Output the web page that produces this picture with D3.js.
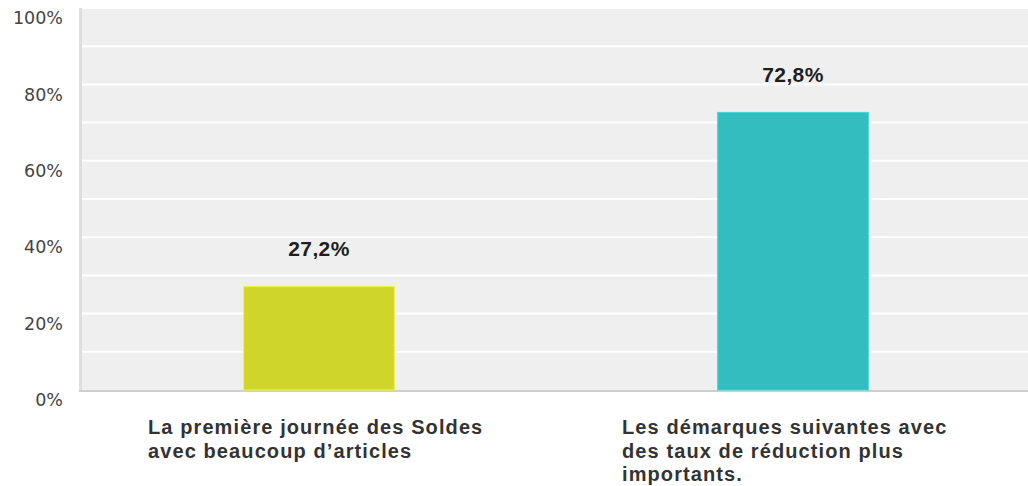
<!DOCTYPE html>
<html>
<head>
<meta charset="utf-8">
<script src="https://cdn.jsdelivr.net/npm/d3@7"></script>
<style>
  body { margin: 0; background: #fff; }
  svg { display: block; }
</style>
</head>
<body>
<div id="chart"></div>
<script>
const categories = [
    ["La première journée des Soldes", "avec beaucoup d’articles"],
    ["Les démarques suivantes avec", "des taux de réduction plus", "importants."]
]
const values = [27.2, 72.8]
const valueLabels = ["27,2%", "72,8%"]
const colors = ["#cfd52a", "#33bdbf"]
const tickValues = [0, 20, 40, 60, 80, 100]
const gridValues = d3.range(0, 101, 10)

const width = 1028,
    height = 486

const margin = { left: 82, right: -2, top: 8, bottom: 96 }

const svg = d3.select("#chart").append("svg")
    .attr("width", width)
    .attr("height", height)

const x = d3.scaleBand()
    .domain(d3.range(values.length))
    .range([margin.left, width - margin.right])
    .paddingInner(0.68)
    .paddingOuter(0.34)

const y = d3.scaleLinear()
    .domain([0, 100])
    .range([height - margin.bottom, margin.top])

// plot background
svg.append("rect")
    .attr("x", margin.left)
    .attr("y", margin.top)
    .attr("width", width - margin.left)
    .attr("height", y(0) - margin.top)
    .attr("fill", "#efefef")

// grid lines
svg.append("g")
    .selectAll("line")
    .data(gridValues.filter(d => d > 0))
    .join("line")
    .attr("x1", margin.left)
    .attr("x2", width)
    .attr("y1", d => y(d))
    .attr("y2", d => y(d))
    .attr("stroke", "#fff")
    .attr("stroke-width", 2)

// left border and baseline
svg.append("rect")
    .attr("x", margin.left - 3)
    .attr("y", margin.top)
    .attr("width", 3)
    .attr("height", y(0) - margin.top)
    .attr("fill", "#dedede")
svg.append("line")
    .attr("x1", margin.left - 3)
    .attr("x2", width)
    .attr("y1", y(0) + 1)
    .attr("y2", y(0) + 1)
    .attr("stroke", "#cfcfcf")
    .attr("stroke-width", 2)

// y axis labels
const yAxis = svg.append("g")
    .attr("transform", "translate(63,0)")
    .call(d3.axisLeft(y).tickValues(tickValues).tickSize(0).tickPadding(0).tickFormat(d => d + "%"))
yAxis.select(".domain").remove()
yAxis.selectAll("text")
    .attr("dy", "0.9em")
    .attr("font-family", "DejaVu Sans, sans-serif")
    .attr("font-size", 17.5)
    .attr("fill", "#444")

// bars
svg.append("g")
    .selectAll("rect")
    .data(values)
    .join("rect")
    .attr("x", (d, i) => x(i) + 0.5)
    .attr("y", d => y(d) + 0.5)
    .attr("width", x.bandwidth() - 1)
    .attr("height", d => y(0) - y(d) - 0.5)
    .attr("fill", (d, i) => colors[i])
    .attr("stroke", (d, i) => d3.color(colors[i]).brighter(0.4))
    .attr("stroke-width", 1)

// value labels
svg.append("g")
    .selectAll("text")
    .data(values)
    .join("text")
    .attr("x", (d, i) => x(i) + x.bandwidth() / 2)
    .attr("y", d => y(d) - 30)
    .attr("text-anchor", "middle")
    .attr("font-family", "Liberation Sans, Arial, sans-serif")
    .attr("font-weight", "bold")
    .attr("font-size", 21)
    .attr("letter-spacing", 0.4)
    .attr("fill", "#1e1e1e")
    .text((d, i) => valueLabels[i])

// category labels
const catG = svg.append("g")
    .selectAll("text")
    .data(categories)
    .join("text")
    .attr("x", (d, i) => x(i) + x.bandwidth() / 2 - 171)
    .attr("y", 434)
    .attr("font-family", "Liberation Sans, Arial, sans-serif")
    .attr("font-weight", "bold")
    .attr("font-size", 20)
    .attr("letter-spacing", 1.1)
    .attr("fill", "#333")

catG.selectAll("tspan")
    .data(d => d)
    .join("tspan")
    .attr("x", function () { return this.parentNode.getAttribute("x") })
    .attr("dy", (d, i) => i === 0 ? 0 : 23.5)
    .text(d => d)
</script>
</body>
</html>
